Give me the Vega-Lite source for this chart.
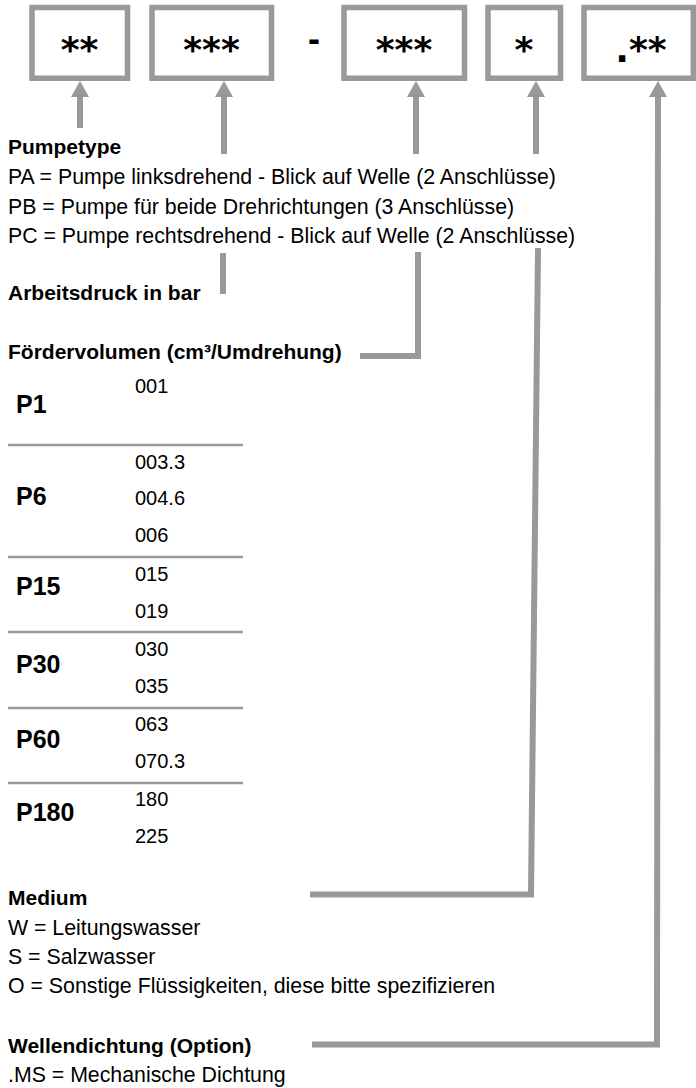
{
  "$schema": "https://vega.github.io/schema/vega-lite/v6.json",
  "width": 696,
  "height": 1088,
  "padding": 0,
  "autosize": {"type": "none"},
  "background": "white",
  "config": {"view": {"stroke": null}, "text": {"font": "Liberation Sans", "color": "#000000"}},
  "datasets": {
    "boxes": [
      {"x": 32, "x2": 127.5, "y": 7.5, "y2": 78.3},
      {"x": 152, "x2": 271.5, "y": 7.5, "y2": 78.3},
      {"x": 344, "x2": 464.5, "y": 7.5, "y2": 78.3},
      {"x": 488, "x2": 560.5, "y": 7.5, "y2": 78.3},
      {"x": 584, "x2": 693.3, "y": 7.5, "y2": 78.3}
    ],
    "codes": [
      {"code": "**", "x": 79.5, "y": 62},
      {"code": "***", "x": 211.5, "y": 62},
      {"code": "***", "x": 404, "y": 62},
      {"code": "*", "x": 524, "y": 62},
      {"code": ".**", "x": 641, "y": 62}
    ],
    "dash": [{"code": "-", "x": 314, "y": 51}],
    "paths": [
      {"path": "p1", "o": 1, "x": 80, "y": 96},
      {"path": "p1", "o": 2, "x": 80, "y": 128},
      {"path": "p2a", "o": 1, "x": 224, "y": 96},
      {"path": "p2a", "o": 2, "x": 224, "y": 154},
      {"path": "p2b", "o": 1, "x": 223, "y": 253},
      {"path": "p2b", "o": 2, "x": 223, "y": 294},
      {"path": "p3a", "o": 1, "x": 416, "y": 96},
      {"path": "p3a", "o": 2, "x": 416, "y": 154},
      {"path": "p3b", "o": 1, "x": 418, "y": 252},
      {"path": "p3b", "o": 2, "x": 418, "y": 356},
      {"path": "p3b", "o": 3, "x": 360, "y": 356},
      {"path": "p4a", "o": 1, "x": 536, "y": 96},
      {"path": "p4a", "o": 2, "x": 536, "y": 154},
      {"path": "p4b", "o": 1, "x": 538, "y": 248},
      {"path": "p4b", "o": 2, "x": 531, "y": 894.5},
      {"path": "p4b", "o": 3, "x": 310, "y": 894.5},
      {"path": "p5", "o": 1, "x": 658, "y": 96},
      {"path": "p5", "o": 2, "x": 657, "y": 1044.5},
      {"path": "p5", "o": 3, "x": 312, "y": 1044.5}
    ],
    "heads": [
      {"x": 80, "y": 89},
      {"x": 224, "y": 89},
      {"x": 416, "y": 89},
      {"x": 536, "y": 89},
      {"x": 658, "y": 89}
    ],
    "separators": [
      {"x": 8, "x2": 243, "y": 445},
      {"x": 8, "x2": 243, "y": 557},
      {"x": 8, "x2": 243, "y": 632},
      {"x": 8, "x2": 243, "y": 708},
      {"x": 8, "x2": 243, "y": 783}
    ],
    "headings": [
      {"text": "Pumpetype", "x": 8, "y": 147.5},
      {"text": "Arbeitsdruck in bar", "x": 8, "y": 294},
      {"text": "Fördervolumen (cm³/Umdrehung)", "x": 8, "y": 352.5},
      {"text": "Medium", "x": 8, "y": 899},
      {"text": "Wellendichtung (Option)", "x": 8, "y": 1046.5}
    ],
    "lines": [
      {"text": "PA = Pumpe linksdrehend - Blick auf Welle (2 Anschlüsse)", "x": 8, "y": 177.5},
      {"text": "PB = Pumpe für beide Drehrichtungen (3 Anschlüsse)", "x": 8, "y": 207.5},
      {"text": "PC = Pumpe rechtsdrehend - Blick auf Welle (2 Anschlüsse)", "x": 8, "y": 236.8},
      {"text": "W = Leitungswasser", "x": 8, "y": 929},
      {"text": "S = Salzwasser", "x": 8, "y": 957.5},
      {"text": "O = Sonstige Flüssigkeiten, diese bitte spezifizieren", "x": 8, "y": 986.7},
      {"text": ".MS = Mechanische Dichtung", "x": 8, "y": 1075.5}
    ],
    "sizes": [
      {"text": "P1", "x": 16, "y": 405},
      {"text": "P6", "x": 16, "y": 497},
      {"text": "P15", "x": 16, "y": 587},
      {"text": "P30", "x": 16, "y": 665},
      {"text": "P60", "x": 16, "y": 740},
      {"text": "P180", "x": 16, "y": 813}
    ],
    "volumes": [
      {"text": "001", "x": 135, "y": 386.5},
      {"text": "003.3", "x": 135, "y": 463},
      {"text": "004.6", "x": 135, "y": 499},
      {"text": "006", "x": 135, "y": 536},
      {"text": "015", "x": 135, "y": 575},
      {"text": "019", "x": 135, "y": 612},
      {"text": "030", "x": 135, "y": 650},
      {"text": "035", "x": 135, "y": 687},
      {"text": "063", "x": 135, "y": 725},
      {"text": "070.3", "x": 135, "y": 762},
      {"text": "180", "x": 135, "y": 800},
      {"text": "225", "x": 135, "y": 837}
    ]
  },
  "layer": [
    {
      "data": {"name": "boxes"},
      "mark": {"type": "rect", "fill": "white", "stroke": "#999999", "strokeWidth": 5.5},
      "encoding": {
        "x": {"field": "x", "type": "quantitative", "scale": {"domain": [0, 696], "nice": false, "zero": false}, "axis": null},
        "x2": {"field": "x2"},
        "y": {"field": "y", "type": "quantitative", "scale": {"domain": [0, 1088], "reverse": true, "nice": false, "zero": false}, "axis": null},
        "y2": {"field": "y2"}
      }
    },
    {
      "data": {"name": "codes"},
      "mark": {"type": "text", "font": "DejaVu Sans", "fontWeight": "bold", "fontSize": 36, "baseline": "alphabetic", "align": "center"},
      "encoding": {
        "x": {"field": "x", "type": "quantitative", "axis": null},
        "y": {"field": "y", "type": "quantitative", "axis": null},
        "text": {"field": "code"}
      }
    },
    {
      "data": {"name": "dash"},
      "mark": {"type": "text", "fontWeight": "bold", "fontSize": 36, "baseline": "alphabetic", "align": "center"},
      "encoding": {
        "x": {"field": "x", "type": "quantitative", "axis": null},
        "y": {"field": "y", "type": "quantitative", "axis": null},
        "text": {"field": "code"}
      }
    },
    {
      "data": {"name": "paths"},
      "mark": {"type": "line", "color": "#999999", "strokeWidth": 6, "strokeCap": "butt", "strokeJoin": "miter"},
      "encoding": {
        "x": {"field": "x", "type": "quantitative", "axis": null},
        "y": {"field": "y", "type": "quantitative", "axis": null},
        "detail": {"field": "path"},
        "order": {"field": "o"}
      }
    },
    {
      "data": {"name": "heads"},
      "mark": {"type": "point", "shape": "M0,-0.9L1,0.9L-1,0.9Z", "size": 324, "filled": true, "color": "#999999", "opacity": 1, "strokeWidth": 0},
      "encoding": {
        "x": {"field": "x", "type": "quantitative", "axis": null},
        "y": {"field": "y", "type": "quantitative", "axis": null}
      }
    },
    {
      "data": {"name": "separators"},
      "mark": {"type": "rule", "color": "#999999", "strokeWidth": 2.5},
      "encoding": {
        "x": {"field": "x", "type": "quantitative", "axis": null},
        "x2": {"field": "x2"},
        "y": {"field": "y", "type": "quantitative", "axis": null}
      }
    },
    {
      "data": {"name": "headings"},
      "mark": {"type": "text", "fontWeight": "bold", "fontSize": 21, "baseline": "middle", "align": "left"},
      "encoding": {
        "x": {"field": "x", "type": "quantitative", "axis": null},
        "y": {"field": "y", "type": "quantitative", "axis": null},
        "text": {"field": "text"}
      }
    },
    {
      "data": {"name": "lines"},
      "mark": {"type": "text", "fontSize": 21.3, "baseline": "middle", "align": "left"},
      "encoding": {
        "x": {"field": "x", "type": "quantitative", "axis": null},
        "y": {"field": "y", "type": "quantitative", "axis": null},
        "text": {"field": "text"}
      }
    },
    {
      "data": {"name": "sizes"},
      "mark": {"type": "text", "fontWeight": "bold", "fontSize": 25, "baseline": "middle", "align": "left"},
      "encoding": {
        "x": {"field": "x", "type": "quantitative", "axis": null},
        "y": {"field": "y", "type": "quantitative", "axis": null},
        "text": {"field": "text"}
      }
    },
    {
      "data": {"name": "volumes"},
      "mark": {"type": "text", "fontSize": 20, "baseline": "middle", "align": "left"},
      "encoding": {
        "x": {"field": "x", "type": "quantitative", "axis": null},
        "y": {"field": "y", "type": "quantitative", "axis": null},
        "text": {"field": "text"}
      }
    }
  ]
}
